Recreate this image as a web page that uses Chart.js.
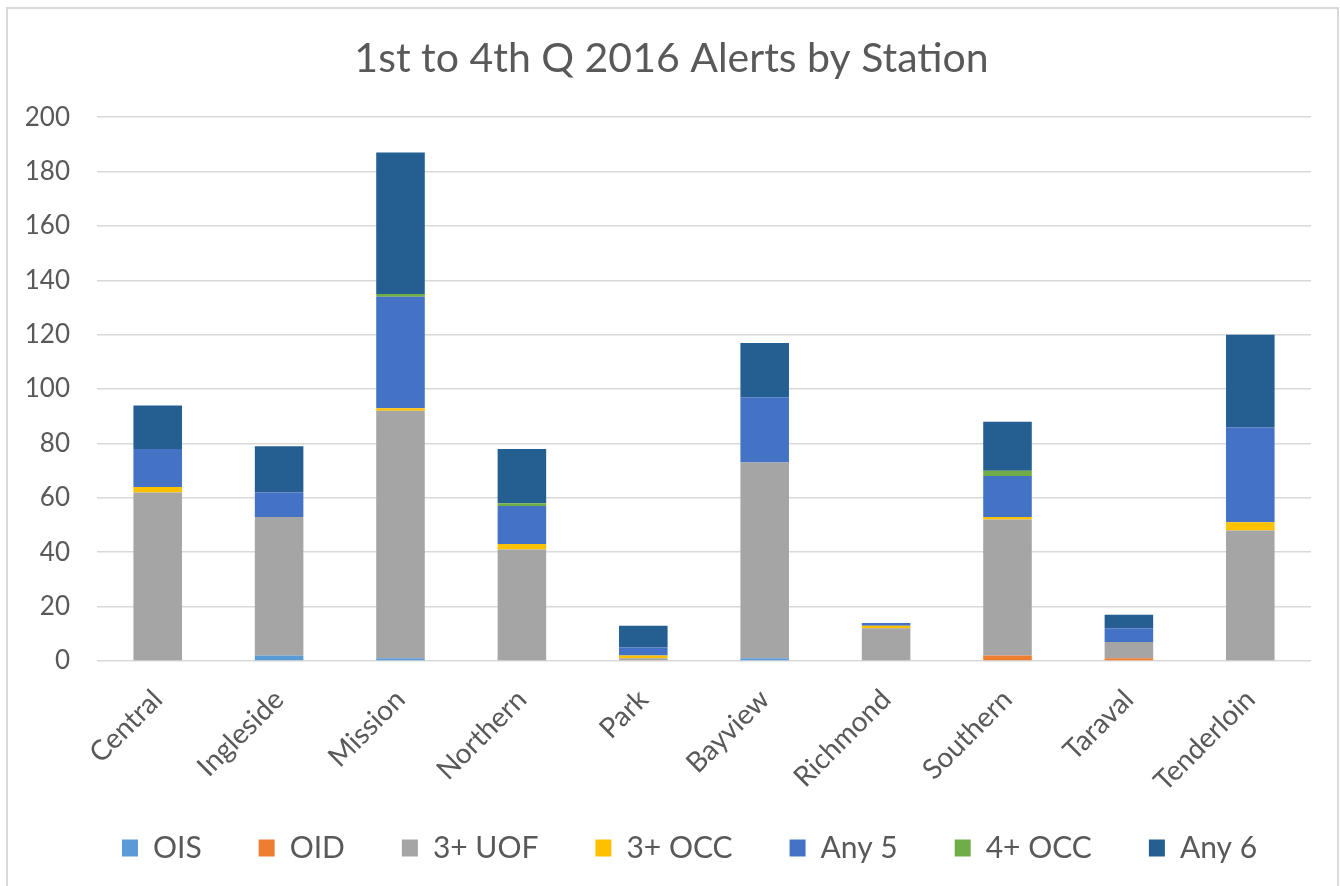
<!DOCTYPE html>
<html>
<head>
<meta charset="utf-8">
<script src="https://cdn.jsdelivr.net/npm/chart.js@4.4.1/dist/chart.umd.min.js"></script>
<style>
  html, body { margin: 0; padding: 0; background: #ffffff; }
  #wrap { position: relative; width: 1340px; height: 886px; }
</style>
</head>
<body>
<div id="wrap"><canvas id="c" width="1340" height="886"></canvas></div>
<script>
const categories = ["Central", "Ingleside", "Mission", "Northern", "Park", "Bayview", "Richmond", "Southern", "Taraval", "Tenderloin"];
const ois   = [0, 2, 1, 0, 0, 1, 0, 0, 0, 0];
const oid   = [0, 0, 0, 0, 0, 0, 0, 2, 1, 0];
const uof3  = [62, 51, 91, 41, 1, 72, 12, 50, 6, 48];
const occ3  = [2, 0, 1, 2, 1, 0, 1, 1, 0, 3];
const any5  = [14, 9, 41, 14, 3, 24, 1, 15, 5, 35];
const occ4  = [0, 0, 1, 1, 0, 0, 0, 2, 0, 0];
const any6  = [16, 17, 52, 20, 8, 20, 0, 18, 5, 34];
const seriesNames = ["OIS", "OID", "3+ UOF", "3+ OCC", "Any 5", "4+ OCC", "Any 6"];
const yTicks = [0, 20, 40, 60, 80, 100, 120, 140, 160, 180, 200];

const colors = ["#5B9BD5", "#ED7D31", "#A5A5A5", "#FFC000", "#4472C4", "#70AD47", "#255E91"];
const seriesData = [ois, oid, uof3, occ3, any5, occ4, any6];

const FONT = "Lato, 'Open Sans', sans-serif";
const TXT = "#595959";

const framePlugin = {
  id: 'frame',
  beforeDraw(chart) {
    const ctx = chart.ctx;
    ctx.save();
    ctx.fillStyle = '#ffffff';
    ctx.fillRect(0, 0, chart.width, chart.height);
    ctx.strokeStyle = '#d9d9d9';
    ctx.lineWidth = 2;
    ctx.strokeRect(7, 8, 1331, 882);
    ctx.restore();
  }
};

// nudge title and legend blocks to match the original's placement,
// and let the rotated category labels overflow their box instead of being clipped
const blockShift = {
  id: 'blockShift',
  afterLayout(chart) {
    const t = chart.titleBlock;
    if (t) { t.left += 12; t.right += 12; }
    const l = chart.legend;
    if (l) { l.left += 30; l.right += 30; }
    const x = chart.scales.x;
    if (x) { x.bottom += 40; }
  }
};

new Chart(document.getElementById('c'), {
  type: 'bar',
  data: {
    labels: categories,
    datasets: seriesNames.map((name, i) => ({
      label: name,
      data: seriesData[i],
      backgroundColor: colors[i],
      borderWidth: 0,
      stack: 's',
      categoryPercentage: 1.0,
      barPercentage: 0.4
    }))
  },
  options: {
    responsive: false,
    animation: false,
    layout: { padding: { left: 8, right: 29, top: 0, bottom: 13 } },
    plugins: {
      title: {
        display: true,
        text: "1st to 4th Q 2016 Alerts by Station",
        color: TXT,
        font: { family: FONT, size: 41, weight: 'normal' },
        padding: { top: 34, bottom: 34 }
      },
      legend: {
        position: 'bottom',
        labels: {
          color: TXT,
          font: { family: FONT, size: 30 },
          boxWidth: 16,
          boxHeight: 17,
          padding: 57
        }
      },
      tooltip: { enabled: false }
    },
    scales: {
      x: {
        stacked: true,
        grid: { display: false, drawTicks: false },
        border: { display: false },
        ticks: {
          color: TXT,
          font: { family: FONT, size: 28 },
          maxRotation: 45,
          minRotation: 45,
          padding: 22
        },
        afterFit(scale) { scale.height = 115; }
      },
      y: {
        stacked: true,
        min: 0,
        max: 200,
        afterBuildTicks(scale) { scale.ticks = yTicks.map(v => ({ value: v })); },
        grid: { color: '#d9d9d9', lineWidth: 1.5, drawTicks: false },
        border: { display: false },
        ticks: {
          color: TXT,
          font: { family: FONT, size: 26 },
          padding: 27
        },
        afterFit(scale) { scale.width = 89; }
      }
    }
  },
  plugins: [framePlugin, blockShift]
});
</script>
</body>
</html>
